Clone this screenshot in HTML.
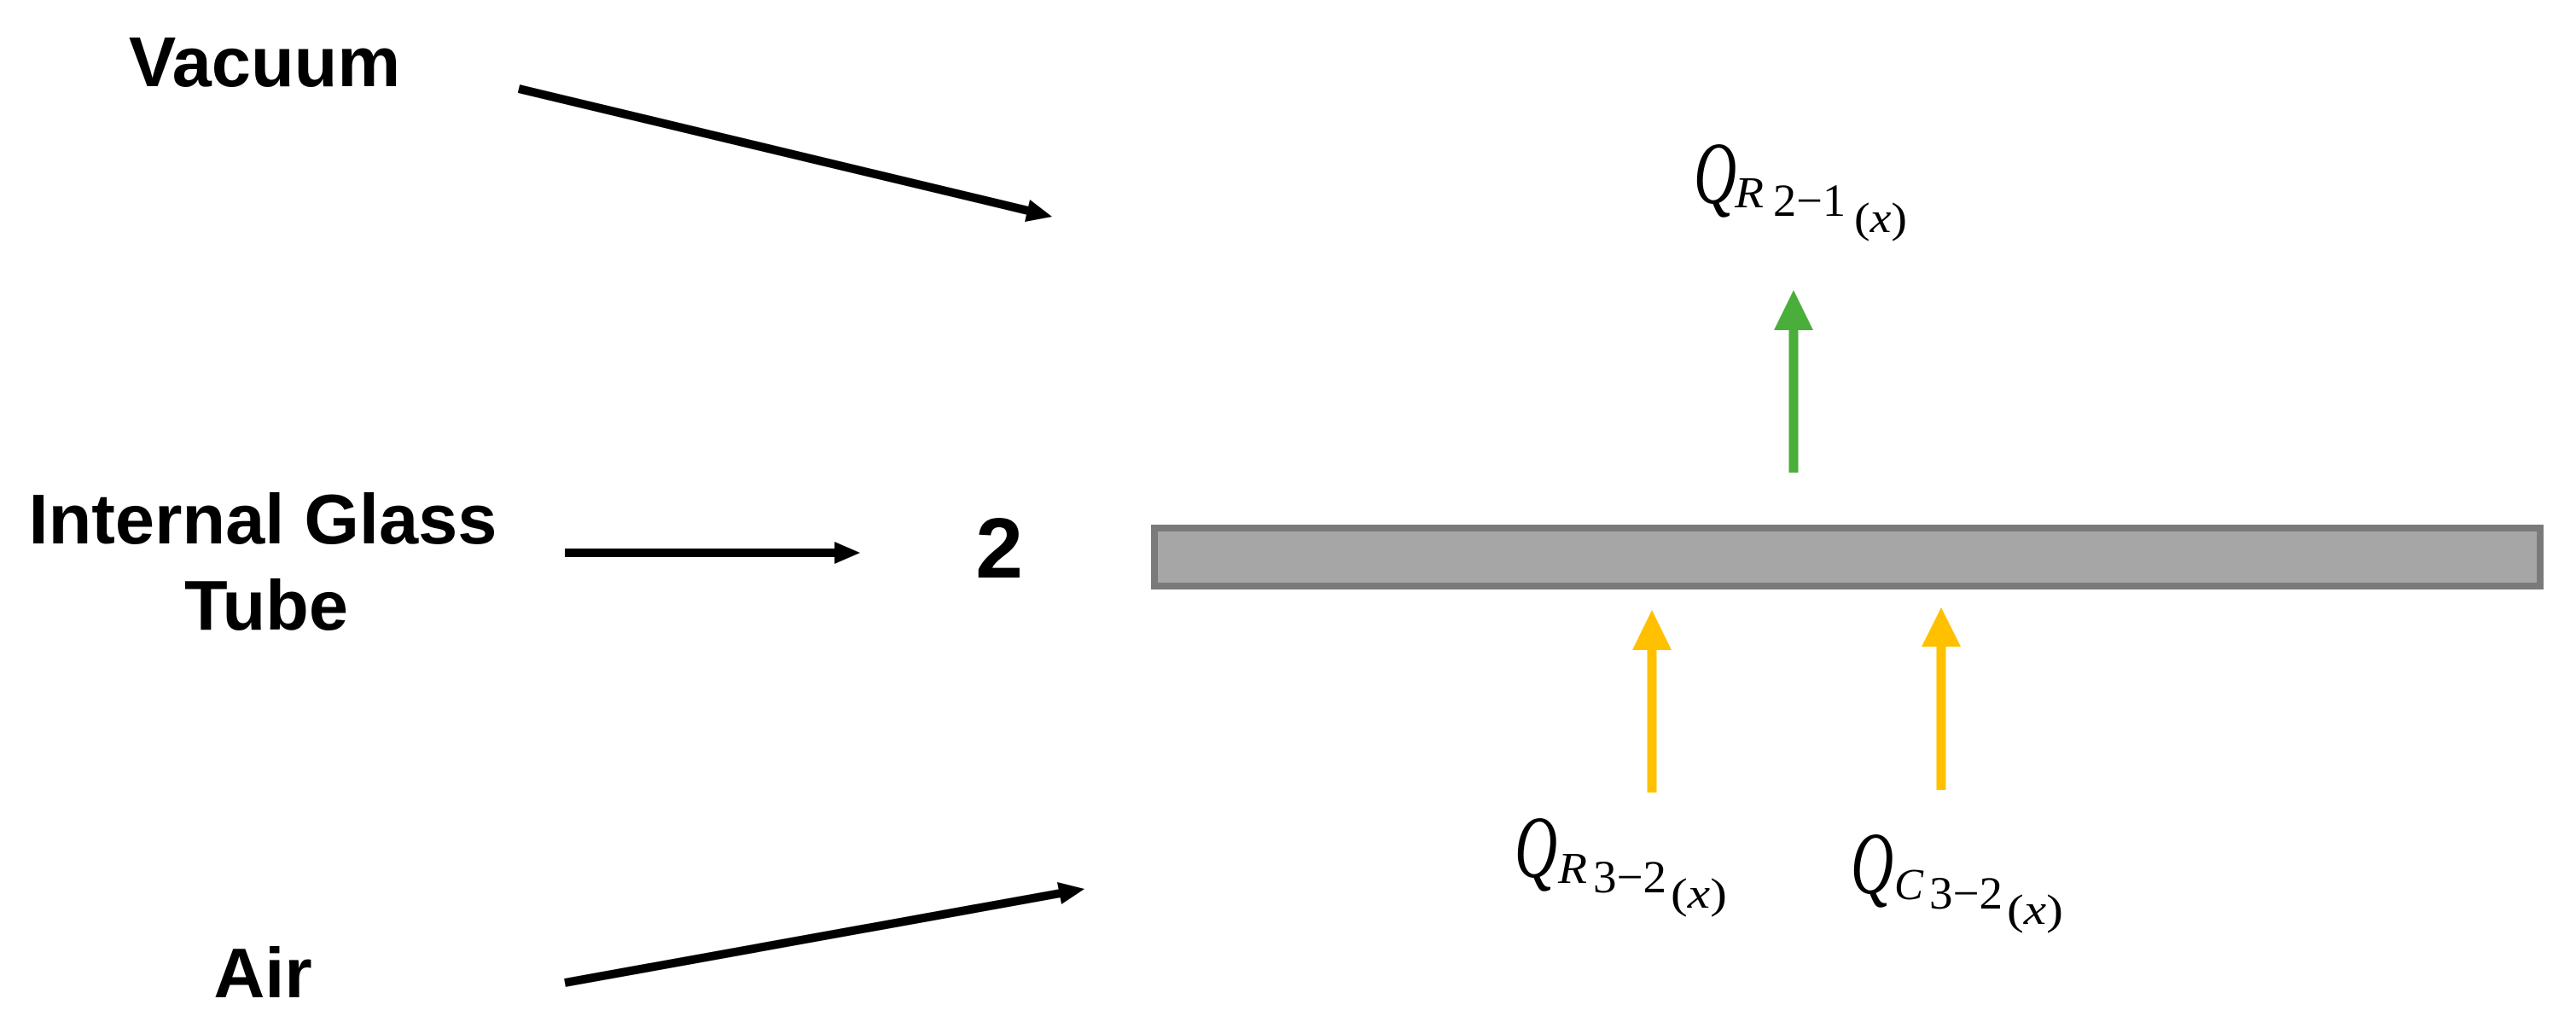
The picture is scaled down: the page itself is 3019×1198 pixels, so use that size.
<!DOCTYPE html>
<html><head><meta charset="utf-8"><style>
html,body{margin:0;padding:0;background:#fff;}
svg{display:block;}
.lb{font-family:"Liberation Sans",Arial,sans-serif;font-weight:bold;fill:#000;}
.m{font-family:"Liberation Serif",serif;fill:#000;}
</style></head><body>
<svg width="3019" height="1198" viewBox="0 0 3019 1198" xmlns="http://www.w3.org/2000/svg">
<!-- left labels -->
<text class="lb" x="310" y="101" font-size="83" text-anchor="middle">Vacuum</text>
<text class="lb" x="308" y="637" font-size="83" text-anchor="middle">Internal Glass</text>
<text class="lb" x="312" y="738" font-size="83" text-anchor="middle">Tube</text>
<text class="lb" x="308" y="1169" font-size="83" text-anchor="middle">Air</text>
<text class="lb" x="1171" y="677" font-size="100" text-anchor="middle">2</text>

<!-- black arrows -->
<line x1="608" y1="104" x2="1205" y2="247" stroke="#000" stroke-width="10"/>
<polygon points="1233,254 1201,260 1207,234" fill="#000"/>
<line x1="662" y1="648" x2="980" y2="648" stroke="#000" stroke-width="10"/>
<polygon points="1008,648 978,635 978,661" fill="#000"/>
<line x1="662" y1="1152" x2="1243" y2="1047" stroke="#000" stroke-width="10"/>
<polygon points="1271,1042 1244,1060 1239,1034" fill="#000"/>

<!-- bar -->
<rect x="1353" y="619" width="1624" height="68" fill="#a6a6a6" stroke="#7a7a7a" stroke-width="8"/>

<!-- green arrow -->
<line x1="2102" y1="554" x2="2102" y2="384" stroke="#4aae3a" stroke-width="11"/>
<polygon points="2102,340 2079,387 2125,387" fill="#4aae3a"/>
<!-- yellow arrows -->
<line x1="1936" y1="929" x2="1936" y2="760" stroke="#ffc000" stroke-width="11"/>
<polygon points="1936,715 1913,762 1959,762" fill="#ffc000"/>
<line x1="2275" y1="926" x2="2275" y2="756" stroke="#ffc000" stroke-width="11"/>
<polygon points="2275,712 2252,758 2298,758" fill="#ffc000"/>

<!-- math labels -->
<g class="m">
<text x="1985" y="238" font-size="104" font-style="italic" textLength="50" lengthAdjust="spacingAndGlyphs">Q</text>
<text x="2033" y="243" font-size="52" font-style="italic" textLength="34" lengthAdjust="spacingAndGlyphs">R</text>
<text x="2078" y="253" font-size="54" textLength="85" lengthAdjust="spacingAndGlyphs">2−1</text>
<text x="2173" y="272" font-size="50" textLength="62" lengthAdjust="spacingAndGlyphs">(<tspan font-style="italic">x</tspan>)</text>

<text x="1775" y="1028" font-size="104" font-style="italic" textLength="50" lengthAdjust="spacingAndGlyphs">Q</text>
<text x="1826" y="1035" font-size="52" font-style="italic" textLength="34" lengthAdjust="spacingAndGlyphs">R</text>
<text x="1867" y="1046" font-size="54" textLength="86" lengthAdjust="spacingAndGlyphs">3−2</text>
<text x="1958" y="1064" font-size="50" textLength="66" lengthAdjust="spacingAndGlyphs">(<tspan font-style="italic">x</tspan>)</text>

<text x="2169" y="1047" font-size="104" font-style="italic" textLength="50" lengthAdjust="spacingAndGlyphs">Q</text>
<text x="2220" y="1054" font-size="52" font-style="italic" textLength="34" lengthAdjust="spacingAndGlyphs">C</text>
<text x="2261" y="1065" font-size="54" textLength="86" lengthAdjust="spacingAndGlyphs">3−2</text>
<text x="2352" y="1083" font-size="50" textLength="66" lengthAdjust="spacingAndGlyphs">(<tspan font-style="italic">x</tspan>)</text>
</g>
</svg>
</body></html>
